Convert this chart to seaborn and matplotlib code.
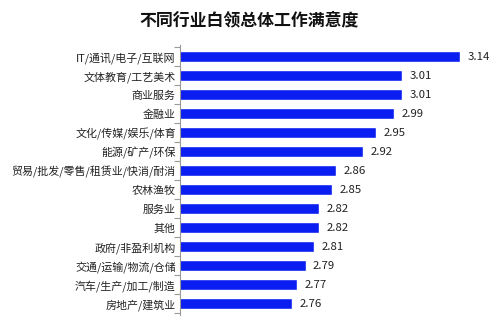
import matplotlib
matplotlib.use("Agg")
import matplotlib.pyplot as plt
import seaborn as sns
import pandas as pd
from matplotlib.ticker import FixedLocator

categories = ["IT/通讯/电子/互联网", "文体教育/工艺美术", "商业服务", "金融业",
              "文化/传媒/娱乐/体育", "能源/矿产/环保", "贸易/批发/零售/租赁业/快消/耐消",
              "农林渔牧", "服务业", "其他", "政府/非盈利机构", "交通/运输/物流/仓储",
              "汽车/生产/加工/制造", "房地产/建筑业"]
values = [3.14, 3.01, 3.01, 2.99, 2.95, 2.92, 2.86, 2.85, 2.82, 2.82, 2.81, 2.79, 2.77, 2.76]
title = "不同行业白领总体工作满意度"

sns.set_theme(style="white")
plt.rcParams['font.family'] = ['Noto Sans CJK SC', 'DejaVu Sans']

df = pd.DataFrame({"cat": categories, "val": values})

fig = plt.figure(figsize=(4.99, 3.28), dpi=100)
ax = fig.add_axes([180/499, 1-315/328, 315/499, 270/328])
sns.barplot(data=df, y="cat", x="val", orient="h", color="#0A1EF2",
            saturation=1, width=0.58, ax=ax)
ax.set_xlim(2.505, 3.22)
ax.set_ylim(13.58, -0.63)
for i, v in enumerate(values):
    ax.text(v + 0.017, i, f"{v:.2f}", va="center", ha="left", fontsize=8.2, color="#222222")
for s in ["top", "right", "bottom"]:
    ax.spines[s].set_visible(False)
ax.spines["left"].set_color("#999999")
ax.spines["left"].set_linewidth(0.8)
ax.set_xticks([])
ax.set_xlabel("")
ax.set_ylabel("")
ax.tick_params(axis="y", which="major", length=0, labelsize=7.9, pad=3, labelcolor="#222222")
ax.yaxis.set_minor_locator(FixedLocator([i - 0.5 for i in range(len(categories) + 1)]))
ax.tick_params(axis="y", which="minor", length=4, width=0.8, color="#999999", left=True)
fig.text(0.5, 1-20/328, title, ha="center", va="center", fontsize=12.2, fontweight="bold", color="#111111")
fig.savefig("out.png", dpi=100)
